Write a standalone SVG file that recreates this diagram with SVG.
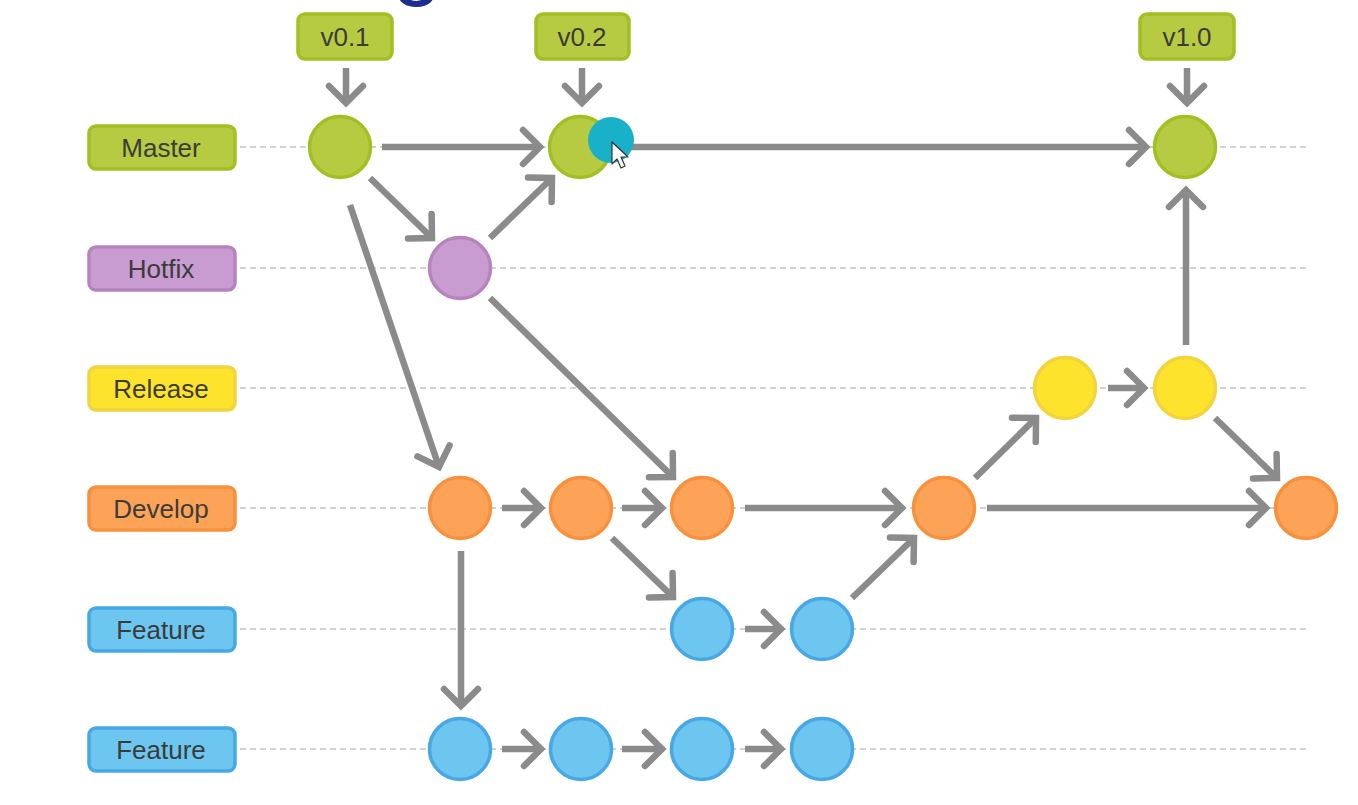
<svg xmlns="http://www.w3.org/2000/svg" width="1358" height="805" viewBox="0 0 1358 805">
<style>
.lane{stroke:#c4c4c4;stroke-width:1.6;stroke-dasharray:6 4;fill:none}
.lbl{font-family:"Liberation Sans",Arial,sans-serif;font-size:26px;fill:#3b3b3b;text-anchor:middle}
.con{stroke:#8b8b8b;stroke-width:6.5;fill:none;stroke-linecap:butt;marker-end:url(#arr)}
.g{fill:#b7cb42;stroke:#a3bf22;stroke-width:3.5}
.p{fill:#c89cd0;stroke:#b683bf;stroke-width:3.5}
.y{fill:#fde32c;stroke:#f1d43e;stroke-width:3.5}
.o{fill:#fda357;stroke:#f8913d;stroke-width:3.5}
.b{fill:#6dc6ef;stroke:#48a8e5;stroke-width:3.5}
</style>
<defs>
<marker id="arr" markerUnits="userSpaceOnUse" viewBox="-24 -24 30 48" refX="0" refY="0" markerWidth="30" markerHeight="48" orient="auto" overflow="visible">
<path d="M-17,-17 L0,0 L-17,17" fill="none" stroke="#8b8b8b" stroke-width="6.5" stroke-linecap="round" stroke-linejoin="miter"/>
</marker>
</defs>
<rect width="1358" height="805" fill="#ffffff"/>
<text x="392" y="-12" font-family="Liberation Sans,Arial,sans-serif" font-size="90" fill="#1c2e8e">g</text>
<g id="lanes">
<line class="lane" x1="240" y1="147" x2="1308" y2="147"/>
<line class="lane" x1="240" y1="268" x2="1308" y2="268"/>
<line class="lane" x1="240" y1="388" x2="1308" y2="388"/>
<line class="lane" x1="240" y1="508" x2="1308" y2="508"/>
<line class="lane" x1="240" y1="629" x2="1308" y2="629"/>
<line class="lane" x1="240" y1="749" x2="1308" y2="749"/>
</g>
<g id="label-master"><rect class="g" x="89" y="126" width="146" height="43" rx="7"/><text class="lbl" x="161" y="157">Master</text></g>
<g id="label-hotfix"><rect class="p" x="89" y="247" width="146" height="43" rx="7"/><text class="lbl" x="161" y="278">Hotfix</text></g>
<g id="label-release"><rect class="y" x="89" y="367" width="146" height="43" rx="7"/><text class="lbl" x="161" y="398">Release</text></g>
<g id="label-develop"><rect class="o" x="89" y="487" width="146" height="43" rx="7"/><text class="lbl" x="161" y="518">Develop</text></g>
<g id="label-feature1"><rect class="b" x="89" y="608" width="146" height="43" rx="7"/><text class="lbl" x="161" y="639">Feature</text></g>
<g id="label-feature2"><rect class="b" x="89" y="728" width="146" height="43" rx="7"/><text class="lbl" x="161" y="759">Feature</text></g>
<g id="tag-v01"><rect class="g" x="298" y="14" width="94" height="45" rx="7"/><text class="lbl" x="345" y="46">v0.1</text></g>
<g id="tag-v02"><rect class="g" x="536" y="14" width="93" height="45" rx="7"/><text class="lbl" x="582" y="46">v0.2</text></g>
<g id="tag-v10"><rect class="g" x="1140" y="14" width="94" height="45" rx="7"/><text class="lbl" x="1187" y="46">v1.0</text></g>
<g id="connectors">
<line class="con" x1="346" y1="68" x2="346" y2="103"/>
<line class="con" x1="582" y1="68" x2="582" y2="103"/>
<line class="con" x1="1187" y1="68" x2="1187" y2="103"/>
<line class="con" x1="382" y1="147" x2="540" y2="147"/>
<line class="con" x1="630" y1="147" x2="1146" y2="147"/>
<line class="con" x1="370" y1="178" x2="432" y2="238"/>
<line class="con" x1="490" y1="238" x2="552" y2="178"/>
<line class="con" x1="350" y1="205" x2="439" y2="467"/>
<line class="con" x1="490" y1="298" x2="673" y2="477"/>
<line class="con" x1="502" y1="508" x2="541" y2="508"/>
<line class="con" x1="622" y1="508" x2="662" y2="508"/>
<line class="con" x1="745" y1="508" x2="902" y2="508"/>
<line class="con" x1="612" y1="538" x2="673" y2="597"/>
<line class="con" x1="745" y1="629" x2="781" y2="629"/>
<line class="con" x1="852" y1="598" x2="914" y2="538"/>
<line class="con" x1="975" y1="478" x2="1036" y2="418"/>
<line class="con" x1="1108" y1="388" x2="1144" y2="388"/>
<line class="con" x1="1186" y1="345" x2="1186" y2="190"/>
<line class="con" x1="1215" y1="418" x2="1277" y2="478"/>
<line class="con" x1="987" y1="508" x2="1266" y2="508"/>
<line class="con" x1="461" y1="551" x2="461" y2="706"/>
<line class="con" x1="502" y1="749" x2="541" y2="749"/>
<line class="con" x1="622" y1="749" x2="662" y2="749"/>
<line class="con" x1="745" y1="749" x2="781" y2="749"/>
</g>
<g id="m1"><circle class="g" cx="340" cy="147" r="30.5"/></g>
<g id="m2"><circle class="g" cx="580" cy="147" r="30.5"/></g>
<g id="m3"><circle class="g" cx="1185" cy="147" r="30.5"/></g>
<g id="h1"><circle class="p" cx="460" cy="268" r="30.5"/></g>
<g id="r1"><circle class="y" cx="1065" cy="388" r="30.5"/></g>
<g id="r2"><circle class="y" cx="1185" cy="388" r="30.5"/></g>
<g id="d1"><circle class="o" cx="460" cy="508" r="30.5"/></g>
<g id="d2"><circle class="o" cx="581" cy="508" r="30.5"/></g>
<g id="d3"><circle class="o" cx="702" cy="508" r="30.5"/></g>
<g id="d4"><circle class="o" cx="944" cy="508" r="30.5"/></g>
<g id="d5"><circle class="o" cx="1306" cy="508" r="30.5"/></g>
<g id="f1a"><circle class="b" cx="702" cy="629" r="30.5"/></g>
<g id="f1b"><circle class="b" cx="822" cy="629" r="30.5"/></g>
<g id="f2a"><circle class="b" cx="460" cy="749" r="30.5"/></g>
<g id="f2b"><circle class="b" cx="581" cy="749" r="30.5"/></g>
<g id="f2c"><circle class="b" cx="702" cy="749" r="30.5"/></g>
<g id="f2d"><circle class="b" cx="822" cy="749" r="30.5"/></g>
<g id="cursor">
<circle cx="611" cy="140" r="23" fill="#18b1c9"/>
<polygon points="612,142 612,164 617,159 621,168 625,166 621,157 628,157" fill="#ffffff" stroke="#333333" stroke-width="1.2" stroke-linejoin="round"/>
</g>
</svg>
